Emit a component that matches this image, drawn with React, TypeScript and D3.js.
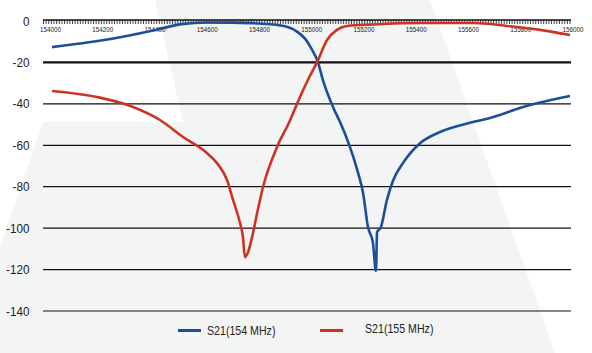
import React from "react";
import * as d3 from "d3";

const blueFreq = [154000, 154201, 154400, 154500, 154598, 154700, 154799, 154900, 154950, 154980, 155000, 155027, 155046, 155085, 155120, 155151, 155181, 155201, 155220, 155239, 155251, 155255, 155270, 155293, 155317, 155355, 155421, 155498, 155625, 155691, 155819, 156000];
const blueDb = [-12.6, -9.2, -4.3, -1.5, -0.7, -0.8, -1.2, -2.5, -5.5, -9, -13, -20, -28.5, -41.5, -51, -61, -73, -83, -99.5, -107, -120.7, -102, -99.5, -86.5, -77, -68.6, -59, -53.6, -48.8, -46.8, -41.5, -36.2];

const redFreq = [154000, 154185, 154313, 154417, 154506, 154598, 154637, 154676, 154699, 154726, 154737, 154745, 154757, 154776, 154792, 154815, 154869, 154919, 154946, 154988, 155023, 155062, 155100, 155139, 155239, 155432, 155625, 155757, 155884, 156000];
const redDb = [-33.8, -37, -41.5, -47.8, -56, -63.7, -68.6, -76.8, -86.4, -97.5, -104, -114, -111.5, -102.4, -92.7, -80, -60.8, -48, -40, -28.5, -20, -9.2, -4.3, -2.4, -1.7, -1, -1, -2.4, -4.3, -6.8];

const xLabels = [154000, 154200, 154400, 154600, 154800, 155000, 155200, 155400, 155600, 155800, 156000];
const yTicks = [0, -20, -40, -60, -80, -100, -120, -140];
const seriesNames = ["S21(154 MHz)", "S21(155 MHz)"];
const colors = ["#1c4f99", "#cc3322"];

function SText(props: { x: number; y: number; sx: number; size: number; anchor?: string; children: React.ReactNode }) {
  return (
    <text
      transform={`translate(${props.x},${props.y}) scale(${props.sx},1)`}
      dy="0.35em"
      textAnchor={props.anchor || "start"}
      fontSize={props.size}
      fill="#222"
    >
      {props.children}
    </text>
  );
}

export default function App() {
  const W = 592, H = 353;
  const x = d3.scaleLinear().domain([154000, 156000]).range([52, 570]);
  const xTick = d3.scaleLinear().domain([154000, 156000]).range([43.5, 570]);
  const xLab = d3.scaleLinear().domain([154000, 156000]).range([50.5, 573]);
  const y = d3.scaleLinear().domain([0, -140]).range([21, 311]);
  const line = d3
    .line<[number, number]>()
    .x((d) => x(d[0]))
    .y((d) => y(d[1]))
    .curve(d3.curveMonotoneX);
  const blue = blueFreq.map((f, i) => [f, blueDb[i]] as [number, number]);
  const red = redFreq.map((f, i) => [f, redDb[i]] as [number, number]);
  const minorTicks = d3.range(154000, 156001, 10);
  const gridX0 = 43, gridX1 = 571;
  const font = "'Liberation Sans', Arial, sans-serif";

  return (
    <svg width={W} height={H} style={{ position: "absolute", left: 0, top: 0 }} fontFamily={font}>
      <rect x={0} y={0} width={W} height={H} fill="#ffffff" />
      <polygon points="155,0 430,0 555,353 0,353 0,247 43,122 183,122" fill="#f3f4f4" />
      {yTicks.map((t) => (
        <g key={t}>
          {t !== 0 && (
            <line
              x1={gridX0}
              x2={gridX1}
              y1={y(t)}
              y2={y(t)}
              stroke="#111"
              strokeWidth={t === -20 ? 2.2 : 1.2}
            />
          )}
          <SText x={29.5} y={y(t)} sx={0.9} size={13} anchor="end">
            {t}
          </SText>
        </g>
      ))}
      <line x1={gridX0} x2={gridX1} y1={20} y2={20} stroke="#111" strokeWidth={1.5} />
      {minorTicks.map((t) => (
        <line key={t} x1={xTick(t)} x2={xTick(t)} y1={20} y2={24} stroke="#111" strokeWidth={0.8} />
      ))}
      {xLabels.map((t) => (
        <SText key={t} x={xLab(t)} y={30} sx={0.9} size={7} anchor="middle">
          {t}
        </SText>
      ))}
      <path d={line(blue) || ""} fill="none" stroke={colors[0]} strokeWidth={2.6} strokeLinejoin="round" />
      <path d={line(red) || ""} fill="none" stroke={colors[1]} strokeWidth={2.6} strokeLinejoin="round" />
      <line x1={178} x2={201} y1={330.5} y2={330.5} stroke={colors[0]} strokeWidth={3} />
      <SText x={207} y={330.5} sx={0.85} size={12.5}>{seriesNames[0]}</SText>
      <line x1={320} x2={343} y1={330.5} y2={330.5} stroke={colors[1]} strokeWidth={3} />
      <SText x={365} y={329} sx={0.85} size={12.5}>{seriesNames[1]}</SText>
    </svg>
  );
}
